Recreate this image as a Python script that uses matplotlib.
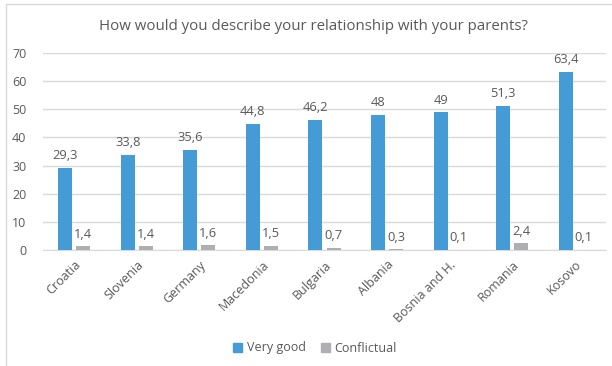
import matplotlib.pyplot as plt
import numpy as np
from matplotlib.patches import Rectangle

countries = ["Croatia", "Slovenia", "Germany", "Macedonia", "Bulgaria",
             "Albania", "Bosnia and H.", "Romania", "Kosovo"]
very_good = [29.3, 33.8, 35.6, 44.8, 46.2, 48, 49, 51.3, 63.4]
conflictual = [1.4, 1.4, 1.6, 1.5, 0.7, 0.3, 0.1, 2.4, 0.1]

blue = "#449bd6"
grey = "#afafb1"
txt = "#595959"

plt.rcParams['font.family'] = ['Open Sans', 'DejaVu Sans']

W, H = 612, 366
fig = plt.figure(figsize=(W / 100, H / 100), dpi=100)
ax = fig.add_axes([43 / W, 1 - 250 / H, 563 / W, 197 / H])

# chart border
fig.patches.append(Rectangle((6 / W, -0.1), 1.2, 1 - 4 / H + 0.1, transform=fig.transFigure,
                             fill=False, edgecolor="#d9d9d9", linewidth=1))

x = np.arange(len(countries))
w = 0.224
b1 = ax.bar(x - 0.144, very_good, w, color=blue, zorder=3)
b2 = ax.bar(x + 0.144, conflictual, w, color=grey, zorder=3)


def fmt(v):
    s = ("%g" % v).replace(".", ",")
    return s


for bars, vals in ((b1, very_good), (b2, conflictual)):
    for r, v in zip(bars, vals):
        ax.annotate(fmt(v), (r.get_x() + r.get_width() / 2, v), xytext=(0, 4),
                    textcoords="offset points", ha="center", va="bottom",
                    fontsize=9.3, color=txt)

ax.set_xlim(-0.5, len(countries) - 0.5)
ax.set_ylim(0, 70)
ax.set_yticks(range(0, 71, 10))
ax.yaxis.grid(True, color="#d9d9d9", linewidth=1, zorder=0)
ax.set_axisbelow(True)
for s in ("top", "right", "left"):
    ax.spines[s].set_visible(False)
ax.spines["bottom"].set_color("#d9d9d9")
ax.tick_params(axis="both", length=0, colors=txt, labelsize=9)
ax.tick_params(axis="y", pad=12)
ax.set_xticks(x)
ax.set_xticklabels(countries, rotation=45, ha="right", rotation_mode="anchor")
ax.tick_params(axis="x", pad=6)

fig.text(313 / W, 1 - 27 / H, "How would you describe your relationship with your parents?",
         ha="center", va="center", fontsize=10.8, color=txt)

handles = [Rectangle((0, 0), 1, 1, color=blue), Rectangle((0, 0), 1, 1, color=grey)]
fig.legend(handles, ["Very good", "Conflictual"], loc="center",
           bbox_to_anchor=(315 / W, 1 - 348 / H), ncol=2, frameon=False,
           fontsize=9, labelcolor=txt, handlelength=0.7, handleheight=0.7,
           handletextpad=0.4, columnspacing=1.2)

fig.savefig("out.png", dpi=100)
